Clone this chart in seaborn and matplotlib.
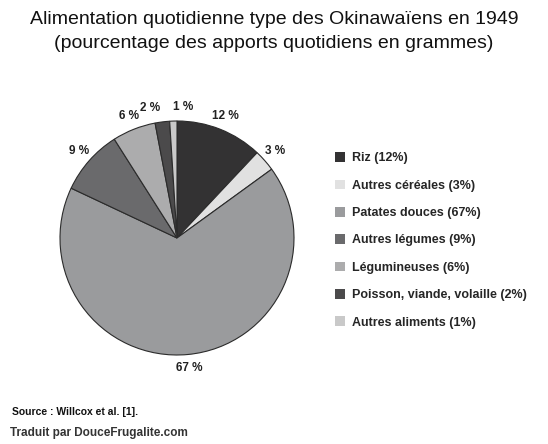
import matplotlib
matplotlib.use("Agg")
import matplotlib.pyplot as plt
import seaborn as sns
from matplotlib.patches import Patch

categories = ["Riz", "Autres céréales", "Patates douces", "Autres légumes",
              "Légumineuses", "Poisson, viande, volaille", "Autres aliments"]
values = [12, 3, 67, 9, 6, 2, 1]
colors = ["#333233", "#e1e1e1", "#9a9b9d", "#6a6a6c", "#acacad", "#4b4a4b", "#c9c9c9"]

sns.set_theme(style="white")
plt.rcParams['font.family'] = ['Liberation Sans', 'DejaVu Sans']

fig = plt.figure(figsize=(5.48, 4.44), dpi=100)
fig.patch.set_facecolor("white")

ax = fig.add_axes([60 / 548, 89 / 444, 234 / 548, 234 / 444])
wedges, texts, autotexts = ax.pie(
    values, colors=colors, startangle=90, counterclock=False, radius=1,
    autopct=lambda p: f"{p:.0f} %", pctdistance=1.12,
    wedgeprops=dict(edgecolor="#2b2b2b", linewidth=0.8),
    textprops=dict(fontsize=8.5, fontweight="bold", color="#222222"),
)
# the two thin slices at the top: push their labels apart
autotexts[5].set_ha("right")
autotexts[6].set_ha("left")
ax.set_xlim(-1, 1)
ax.set_ylim(-1, 1)
ax.set_aspect("equal")
ax.axis("off")

handles = [Patch(facecolor=c, edgecolor="none") for c in colors]
labels = [f"{c} ({v}%)" for c, v in zip(categories, values)]
fig.legend(handles, labels, loc="upper left", bbox_to_anchor=(324 / 548, 1 - 141 / 444),
           frameon=False, handlelength=0.8, handleheight=0.8,
           handletextpad=0.55, labelspacing=1.22,
           prop=dict(weight="bold", size=9))

fig.text(0.5, 1 - 20 / 444, "Alimentation quotidienne type des Okinawaïens en 1949",
         ha="center", va="center", fontsize=14, color="#111111")
fig.text(0.5, 1 - 44 / 444, "(pourcentage des apports quotidiens en grammes)",
         ha="center", va="center", fontsize=14, color="#111111")

fig.text(12 / 548, 1 - 412 / 444, "Source : Willcox et al. [1].",
         ha="left", va="center", fontsize=7.5, fontweight="bold", color="#111111")
fig.text(10 / 548, 1 - 433 / 444, "Traduit par DouceFrugalite.com",
         ha="left", va="center", fontsize=8.5, fontweight="bold", color="#333333")

fig.savefig("out.png", dpi=100)
